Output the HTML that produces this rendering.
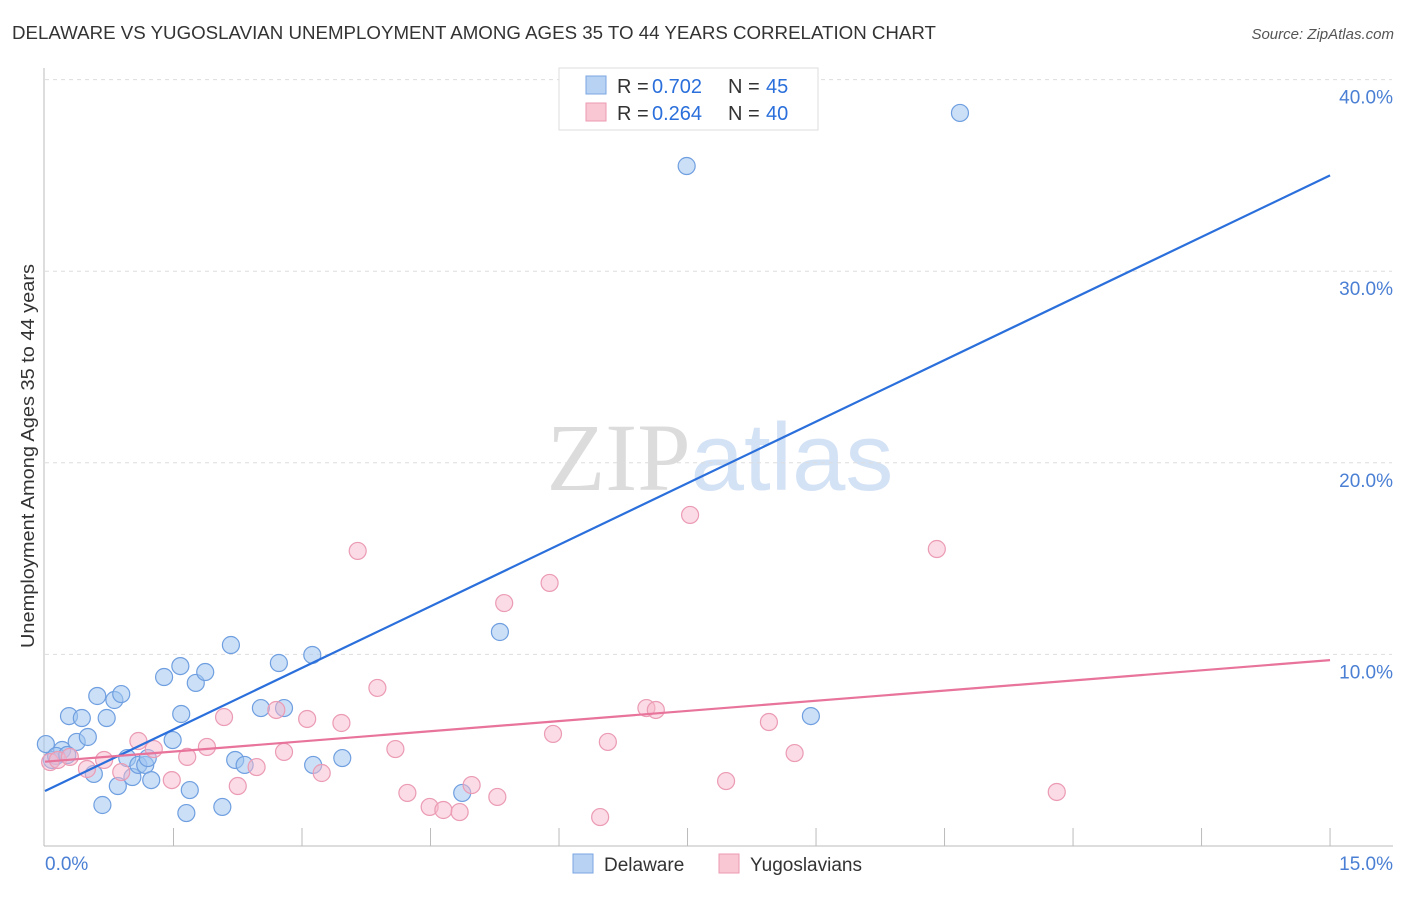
<!DOCTYPE html>
<html><head><meta charset="utf-8"><style>
body{margin:0;background:#fff;font-family:"Liberation Sans",sans-serif}
svg text{font-family:"Liberation Sans",sans-serif}
</style></head><body>
<svg id="chart" width="1406" height="892" xmlns="http://www.w3.org/2000/svg">
<text x="12" y="39" font-size="18" fill="#333" textLength="924" lengthAdjust="spacingAndGlyphs">DELAWARE VS YUGOSLAVIAN UNEMPLOYMENT AMONG AGES 35 TO 44 YEARS CORRELATION CHART</text>
<text x="1394" y="39" font-size="15" fill="#555" text-anchor="end" font-style="italic">Source: ZipAtlas.com</text>
<text x="720" y="490" font-size="96" text-anchor="middle"><tspan fill="#dcdcdc" font-family="Liberation Serif">ZIP</tspan><tspan fill="#d4e2f5">atlas</tspan></text>
<text transform="translate(34,456) rotate(-90)" font-size="18" fill="#333" text-anchor="middle" textLength="384" lengthAdjust="spacingAndGlyphs">Unemployment Among Ages 35 to 44 years</text>
<g id="grid"></g><g id="axes"></g><g id="pts"></g><g id="lines"></g>
<g>
<rect x="559" y="68" width="259" height="62" fill="#fff" stroke="#ddd"/>
<rect x="586" y="76" width="20" height="18" fill="#b8d2f4" stroke="#7aa6e2"/>
<text x="617" y="93" font-size="20" fill="#333">R =</text>
<text x="652" y="93" font-size="20" fill="#2a6fdb">0.702</text>
<text x="728" y="93" font-size="20" fill="#333">N =</text>
<text x="766" y="93" font-size="20" fill="#2a6fdb">45</text>
<rect x="586" y="103" width="20" height="18" fill="#f9c6d4" stroke="#ec9ab2"/>
<text x="617" y="120" font-size="20" fill="#333">R =</text>
<text x="652" y="120" font-size="20" fill="#2a6fdb">0.264</text>
<text x="728" y="120" font-size="20" fill="#333">N =</text>
<text x="766" y="120" font-size="20" fill="#2a6fdb">40</text>
</g>
<g>
<rect x="573" y="854" width="20" height="19" fill="#b8d2f4" stroke="#7aa6e2"/>
<text x="604" y="871" font-size="19" fill="#333">Delaware</text>
<rect x="719" y="854" width="20" height="19" fill="#f9c6d4" stroke="#ec9ab2"/>
<text x="750" y="871" font-size="19" fill="#333">Yugoslavians</text>
</g>
</svg>
<script>
const blueX=[10.68,7.49,5.31,8.94,0.01,0.08,0.20,0.28,0.43,0.37,0.50,0.61,0.72,0.81,0.89,0.57,0.67,0.85,0.96,1.02,1.09,1.17,1.20,1.24,1.39,1.49,1.58,1.59,1.65,1.69,1.76,1.87,2.07,2.17,2.22,2.33,2.52,2.73,2.79,3.12,3.13,3.47,4.87,0.13,0.26];
const blueY=[38.26,35.49,11.17,6.78,5.32,4.49,5.01,6.78,6.68,5.43,5.69,7.83,6.68,7.62,7.93,3.76,2.14,3.13,4.59,3.60,4.23,4.23,4.59,3.44,8.82,5.53,9.39,6.89,1.72,2.92,8.51,9.08,2.04,10.49,4.49,4.23,7.20,9.55,7.20,9.97,4.23,4.59,2.77,4.70,4.75];
const pinkX=[0.06,0.15,0.29,0.49,0.69,0.89,1.09,1.27,1.48,1.66,1.89,2.09,2.25,2.47,2.70,2.79,3.06,3.23,3.46,3.65,3.88,4.09,4.23,4.49,4.65,4.84,4.98,5.28,5.36,5.93,5.89,6.48,6.57,7.02,7.13,7.53,7.95,8.45,8.75,10.41,11.81];
const pinkY=[4.38,4.49,4.65,4.02,4.49,3.86,5.48,5.06,3.44,4.65,5.17,6.73,3.13,4.12,7.10,4.91,6.63,3.81,6.42,15.40,8.25,5.06,2.77,2.04,1.88,1.77,3.18,2.56,12.68,5.85,13.73,1.51,5.43,7.20,7.10,17.28,3.39,6.47,4.85,15.50,2.82];
const blueLine=[2.87,35.0];
const pinkLine=[4.4,9.7];
const yTicks=[10,20,30,40];
const yTickLabels=["10.0%","20.0%","30.0%","40.0%"];
const xTickLabels=["0.0%","15.0%"];
const NS="http://www.w3.org/2000/svg";
const sx=v=>45+v*85.67, sy=v=>846-v*19.16;
function mk(tag,attrs,parent,txt){const e=document.createElementNS(NS,tag);for(const k in attrs)e.setAttribute(k,attrs[k]);if(txt!==undefined)e.textContent=txt;document.getElementById(parent).appendChild(e);return e;}
yTicks.forEach((t,i)=>{
 const l=mk('line',{x1:45,x2:1392,y1:sy(t),y2:sy(t),stroke:'#ddd','stroke-dasharray':'4,4'},'grid');
 
 
 const tx=mk('text',{x:1393,y:sy(t)+24,'font-size':19,fill:'#4a7fd4','text-anchor':'end'},'grid',yTickLabels[i]);
 
 
});
const ax=mk('line',{x1:44,x2:44,y1:68,y2:846,stroke:'#bbb'},'axes');


const bx=mk('line',{x1:44,x2:1393,y1:846,y2:846,stroke:'#bbb'},'axes');


for(let i=1;i<=10;i++){const t=mk('line',{x1:sx(i*1.5),x2:sx(i*1.5),y1:828,y2:846,stroke:'#bbb'},'axes');
 
 }
const xl0=mk('text',{x:45,y:870,'font-size':19,fill:'#4a7fd4'},'axes',xTickLabels[0]);


const xl1=mk('text',{x:1393,y:870,'font-size':19,fill:'#4a7fd4','text-anchor':'end'},'axes',xTickLabels[1]);


blueX.forEach((x,i)=>{const c=mk('circle',{cx:sx(x),cy:sy(blueY[i]),r:8.5,fill:'rgba(160,196,240,0.55)',stroke:'#6f9fe0','stroke-width':1.2},'pts');
 
 });
pinkX.forEach((x,i)=>{const c=mk('circle',{cx:sx(x),cy:sy(pinkY[i]),r:8.5,fill:'rgba(247,184,204,0.5)',stroke:'#eb9bb4','stroke-width':1.2},'pts');
 
 });
const bl=mk('line',{x1:sx(0),y1:sy(blueLine[0]),x2:sx(15),y2:sy(blueLine[1]),stroke:'#2a6fdb','stroke-width':2.2},'lines');


const pl=mk('line',{x1:sx(0),y1:sy(pinkLine[0]),x2:sx(15),y2:sy(pinkLine[1]),stroke:'#e8739b','stroke-width':2.2},'lines');


</script>
</body></html>
